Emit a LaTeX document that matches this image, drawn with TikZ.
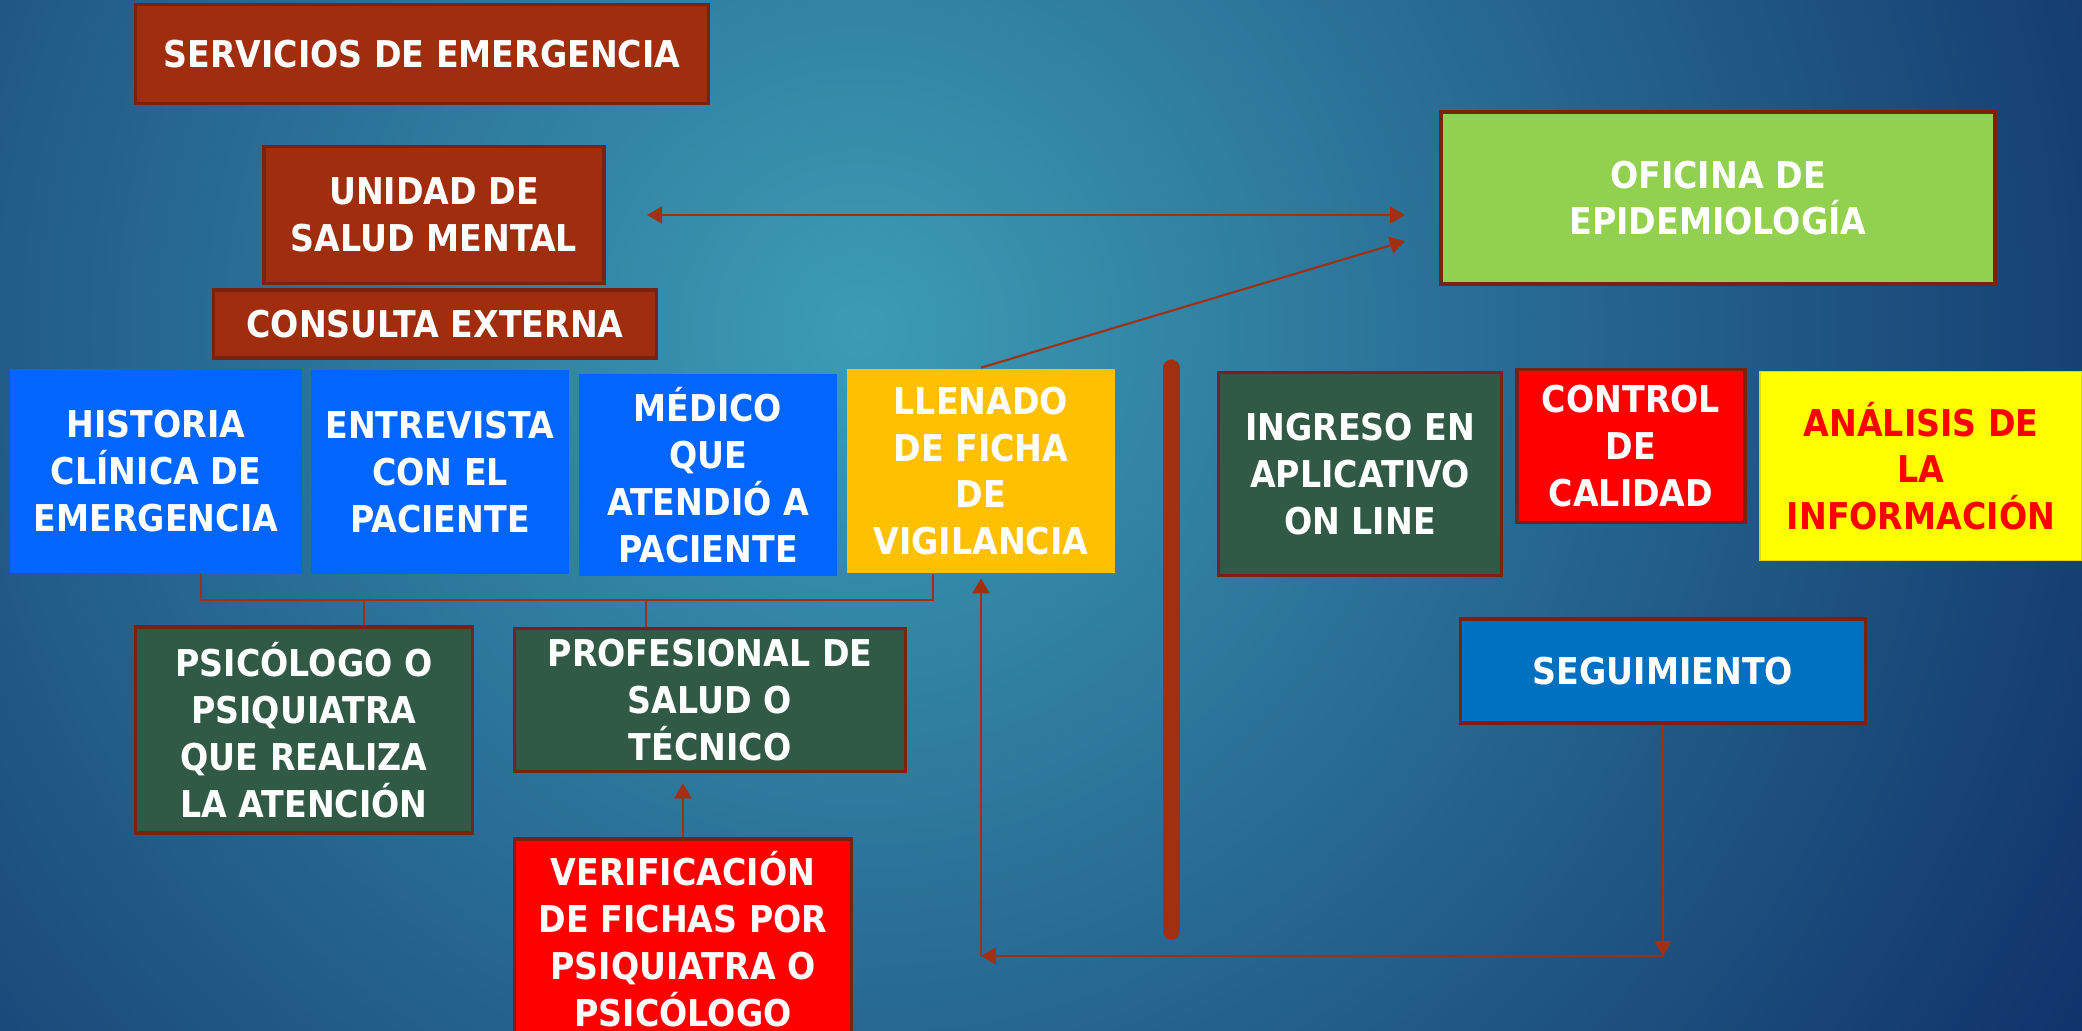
\documentclass[tikz,border=0pt]{standalone}
\usepackage{fontspec}
\setmainfont{DejaVu Sans}[FakeStretch=0.9]
\usetikzlibrary{arrows.meta}
\definecolor{BGin}{HTML}{3C9CB5}
\definecolor{BGout}{HTML}{0E2C66}
\definecolor{EDGE}{HTML}{7A2211}
\definecolor{LINE}{HTML}{A0300F}
\definecolor{BRICK}{HTML}{A02D0E}
\definecolor{BLU}{HTML}{0066FF}
\definecolor{AMBER}{HTML}{FFC000}
\definecolor{LIME}{HTML}{92D050}
\definecolor{FOREST}{HTML}{305A46}
\definecolor{RED}{HTML}{FF0000}
\definecolor{YEL}{HTML}{FFFF00}
\definecolor{AZURE}{HTML}{0070C0}

\begin{document}
\begin{tikzpicture}[x=0.01cm, y=-0.01cm,
  box/.style={draw=EDGE, line width=1pt, text=white, align=center, inner sep=0pt,
    font=\bfseries\fontsize{10.5}{13.3}\selectfont},
  plain/.style={box, draw=none},
  sz/.style 2 args={minimum width=#1cm, minimum height=#2cm},
  link/.style={draw=LINE, line width=0.6pt},
  arr/.style={link, -{Triangle[length=0.15cm, width=0.17cm]}}]%
\useasboundingbox (0,0) rectangle (2082,1031);%
\begin{scope}%
\clip (0,0) rectangle (2082,1031);%
\fill[BGout] (0,0) rectangle (2082,1031);%
\shade[inner color=BGin, outer color=BGout] (860,330) circle (1500);%
\end{scope}%
% upper boxes
\node[box, fill=BRICK, sz={5.73}{0.99}] (servicios) at (422,54) {SERVICIOS DE EMERGENCIA};%
\node[box, fill=BRICK, sz={3.40}{1.37}] (unidad) at (434,215) {UNIDAD DE\\SALUD MENTAL};%
\node[box, fill=BRICK, sz={4.43}{0.68}] (consulta) at (435,324) {CONSULTA EXTERNA};%
\node[box, fill=LIME, sz={5.54}{1.72}] (oficina) at (1718,198) {OFICINA DE\\EPIDEMIOLOGÍA};%
% row of steps
\node[plain, fill=BLU, sz={2.92}{2.03}] (historia) at (156,471) {HISTORIA\\CLÍNICA DE\\EMERGENCIA};%
\node[plain, fill=BLU, sz={2.58}{2.04}] (entrevista) at (440,472) {ENTREVISTA\\CON EL\\PACIENTE};%
\node[plain, fill=BLU, sz={2.57}{2.02}] (medico) at (708,475) {MÉDICO\\QUE\\ATENDIÓ A\\PACIENTE};%
\node[plain, fill=AMBER, sz={2.67}{2.03}] (llenado) at (981,471) {LLENADO\\DE FICHA\\DE\\VIGILANCIA};%
\node[box, fill=FOREST, sz={2.83}{2.03}] (ingreso) at (1360,474) {INGRESO EN\\APLICATIVO\\ON LINE};%
\node[box, fill=RED, sz={2.28}{1.53}] (control) at (1631,446) {CONTROL\\DE\\CALIDAD};%
\node[box, draw=YEL!85!black, line width=0.4pt, fill=YEL, text=RED, sz={3.22}{1.89}] (analisis) at (1921,466) {ANÁLISIS DE\\LA\\INFORMACIÓN};%
% lower boxes
\node[box, fill=FOREST, sz={3.37}{2.06}] (psicologo) at (304,730) {PSICÓLOGO O\\PSIQUIATRA\\QUE REALIZA\\LA ATENCIÓN};%
\node[box, fill=FOREST, sz={3.91}{1.43}] (profesional) at (710,700) {PROFESIONAL DE\\SALUD O\\TÉCNICO};%
\node[box, fill=RED, sz={3.37}{2.00}] (verificacion) at (683,939) {VERIFICACIÓN\\DE FICHAS POR\\PSIQUIATRA O\\PSICÓLOGO};%
\node[box, fill=AZURE, sz={4.05}{1.04}] (seguimiento) at (1663,671) {SEGUIMIENTO};%
% connectors
\coordinate (uniR) at (647,215);%
\coordinate (ofiL) at (1405,215);%
\coordinate (ofiD) at (1405,241);%
\coordinate (hisB) at (201,573);%
\coordinate (busL) at (201,600);%
\coordinate (busR) at (933,600);%
\coordinate (drop1) at (364,600);%
\coordinate (drop2) at (646,600);%
\coordinate (segC) at (1663,956);%
\coordinate (llenC) at (981,956);%
\draw[arr, {Triangle[length=0.15cm, width=0.17cm]}-{Triangle[length=0.15cm, width=0.17cm]}] (uniR) -- (ofiL);%
\draw[arr] (llenado.north) -- (ofiD);%
\draw[link] (hisB) -- (busL) -- (busR) -- (busR |- llenado.south);%
\draw[link] (drop1) -- (drop1 |- psicologo.north);%
\draw[link] (drop2) -- (drop2 |- profesional.north);%
\draw[arr, shorten >=0.1cm] (verificacion.north) -- (verificacion.north |- profesional.south);%
\draw[arr] (seguimiento.south) -- (segC);%
\draw[arr] (segC) -- (llenC);%
\draw[arr, shorten >=0.04cm] (llenC) -- (llenado.south);%
% divider
\draw[LINE, line width=0.17cm, line cap=round] (1171,368) -- (1171,931);%
\end{tikzpicture}
\end{document}
